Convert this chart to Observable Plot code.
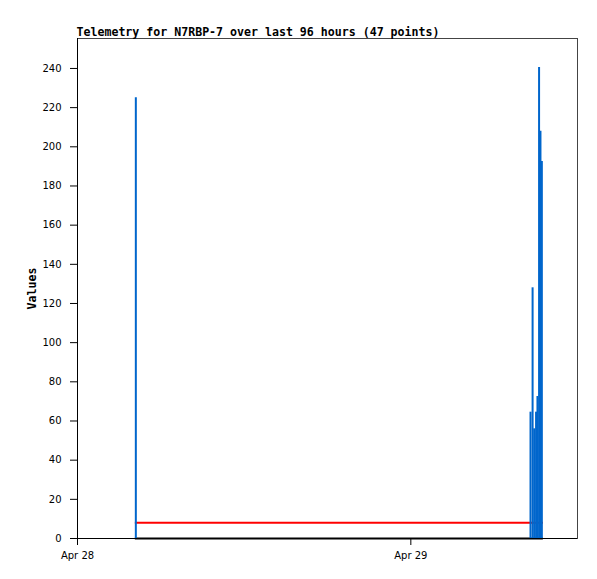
<!DOCTYPE html>
<html>
<head>
<meta charset="utf-8">
<script src="https://cdn.jsdelivr.net/npm/d3@7"></script>
<script src="https://cdn.jsdelivr.net/npm/@observablehq/plot@0.6"></script>
<style>
  body { margin: 0; background: #fff; }
  svg { font-family: "DejaVu Sans", sans-serif; }
</style>
</head>
<body>
<div id="chart"></div>
<script>
const titleText = "Telemetry for N7RBP-7 over last 96 hours (47 points)";
const yLabel = "Values";
const times = [
  "2024-04-28T04:12:00Z",
  "2024-04-29T08:37:00Z",
  "2024-04-29T08:46:00Z",
  "2024-04-29T08:53:00Z",
  "2024-04-29T09:01:00Z",
  "2024-04-29T09:07:00Z",
  "2024-04-29T09:14:00Z",
  "2024-04-29T09:20:00Z",
  "2024-04-29T09:26:00Z"
];
const values = [225, 64.5, 128, 56, 64.5, 72.5, 240.5, 208, 192.5];
const redValues = [8, 8, 8, 8, 8, 8, 8, 8, 8];
const blackValues = [0, 0, 0, 0, 0, 0, 0, 0, 0];
const xTicks = ["2024-04-28T00:00:00Z", "2024-04-29T00:00:00Z"];
const yTicks = [0, 20, 40, 60, 80, 100, 120, 140, 160, 180, 200, 220, 240];
const xDomain = ["2024-04-28T00:00:00Z", "2024-04-29T12:00:00Z"];
const yDomain = [0, 255.3];

const data = times.map((t, i) => ({
  t: new Date(t), v: values[i], r: redValues[i], k: blackValues[i]
}));

const chart = Plot.plot({
  width: 597,
  height: 579,
  marginLeft: 77,
  marginRight: 20,
  marginTop: 38,
  marginBottom: 41,
  style: { fontSize: "10px", fontFamily: "DejaVu Sans, sans-serif", color: "#000", background: "#fff" },
  x: { type: "utc", domain: xDomain.map(d => new Date(d)) },
  y: { domain: yDomain },
  marks: [
    Plot.frame({ stroke: "#444", strokeWidth: 1 }),
    Plot.line(data, { x: "t", y: "r", stroke: "#ff0000", strokeWidth: 2, strokeLinecap: "square" }),
    Plot.line(data, { x: "t", y: "k", stroke: "#000", strokeWidth: 2, strokeLinecap: "square" }),
    Plot.ruleX(data, { x: "t", y1: 0, y2: "v", stroke: "#0066cc", strokeWidth: 2 }),
    Plot.ruleY([0], { stroke: "#000", strokeWidth: 1 }),
    Plot.ruleX([xDomain[0]].map(d => new Date(d)), { stroke: "#000", strokeWidth: 1 }),
    Plot.axisY({ ticks: yTicks, tickSize: 7, tickPadding: 9, label: null, stroke: "#000" }),
    Plot.axisX({ ticks: xTicks.map(d => new Date(d)), tickFormat: d3.utcFormat("%b %d"), tickSize: 7, tickPadding: 6, label: null }),
    Plot.text([titleText], { frameAnchor: "top-left", textAnchor: "start", lineAnchor: "bottom", dx: -1, dy: -3, fontFamily: "DejaVu Sans Mono, monospace", fontWeight: "bold", fontSize: 11.6, fill: "#000" }),
    Plot.text([yLabel], { frameAnchor: "left", textAnchor: "middle", rotate: -90, dx: -45, fontFamily: "DejaVu Sans Mono, monospace", fontWeight: "bold", fontSize: 11.6, fill: "#000" })
  ]
});
document.getElementById("chart").appendChild(chart);
</script>
</body>
</html>
